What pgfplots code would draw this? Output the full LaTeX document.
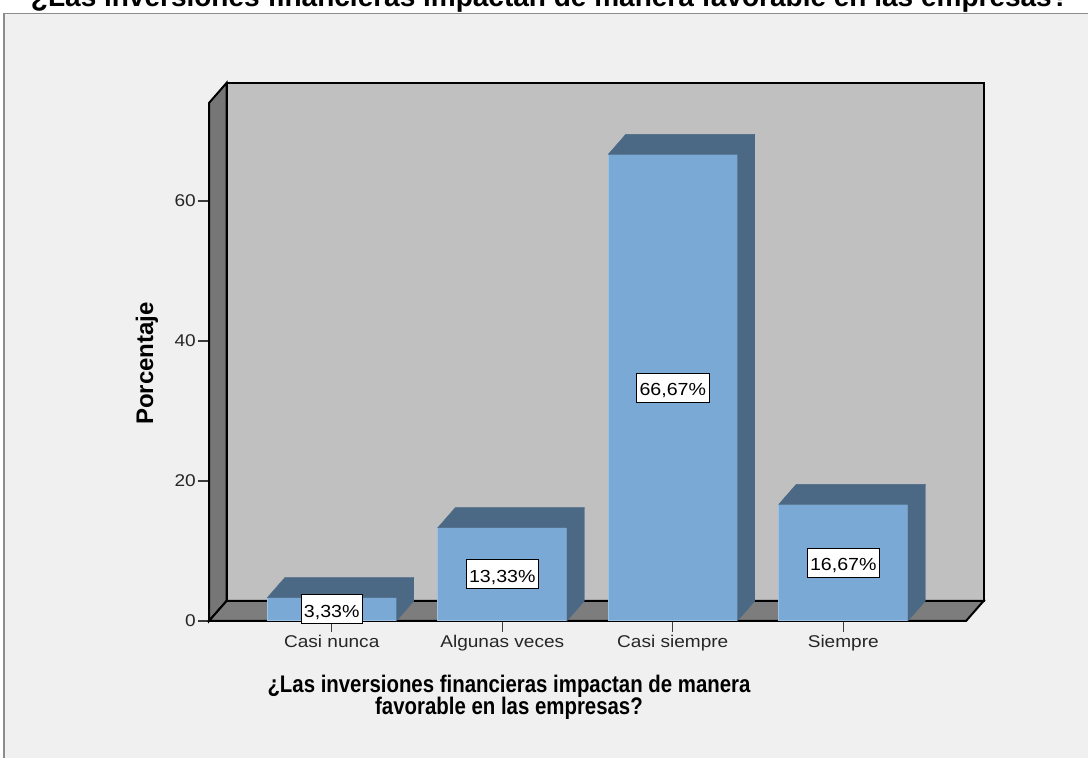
\documentclass[border=0pt]{standalone}
\usepackage{pgfplots}
\pgfplotsset{compat=1.18}
\usepackage{fontspec}
\setmainfont{Liberation Sans}[FakeStretch=1.12]
\newfontfamily\plainfont{Liberation Sans}
\newfontfamily\narrowfont{Liberation Sans}[FakeStretch=0.85]

\definecolor{panelbg}{HTML}{F0F0F0}
\definecolor{panelline}{HTML}{8C8C8C}
\definecolor{backwall}{HTML}{C0C0C0}
\definecolor{sidewall}{HTML}{767676}
\definecolor{floorcol}{HTML}{7D7D7D}
\definecolor{barfront}{HTML}{7BA9D6}
\definecolor{baredge}{HTML}{9CC2E6}
\definecolor{barside}{HTML}{4B6985}
\definecolor{tickcol}{HTML}{3C3C3C}

% empty mark: the 3d faces are drawn by the scatter code
\pgfdeclareplotmark{blank}{}

\begin{document}
\begin{tikzpicture}[x=1pt,y=1pt]
\fill[white] (0,0) rectangle (1088,758);
\fill[panelbg] (4,-10) rectangle (1100,744.5);
\draw[panelline, line width=1.5pt] (4,-10) -- (4,744.5) -- (1100,744.5);
\node[anchor=base, font=\plainfont\bfseries\fontsize{28}{32}\selectfont] at (550,751)
  {¿Las inversiones financieras impactan de manera favorable en las empresas?};

\begin{axis}[
  at={(209pt,137pt)}, anchor=south west,
  scale only axis, x=170.5pt, y=7pt,
  xmin=-0.72, xmax=3.72, ymin=0, ymax=74,
  clip=false,
  axis x line*=bottom, axis y line*=left,
  axis line style={draw=none},
  xtick={0,1,2,3},
  xticklabels={Casi nunca, Algunas veces, Casi siempre, Siempre},
  ytick={0,20,40,60},
  tick align=outside,
  major tick length=11pt,
  tick style={tickcol, line width=1.3pt},
  /pgf/number format/assume math mode=true,
  ticklabel style={font=\fontsize{17}{20}\selectfont, text=black!85},
  yticklabel style={inner xsep=2pt},
]
% walls and floor
\filldraw[fill=backwall, draw=black, line width=2pt]
  ([shift={(17.5pt,20pt)}]axis cs:-0.72,0) rectangle ([shift={(17.5pt,20pt)}]axis cs:3.72,74);
\filldraw[fill=sidewall, draw=black, line width=2pt]
  (axis cs:-0.72,0) -- (axis cs:-0.72,74) -- ([shift={(17.5pt,20pt)}]axis cs:-0.72,74)
  -- ([shift={(17.5pt,20pt)}]axis cs:-0.72,0) -- cycle;
\filldraw[fill=floorcol, draw=black, line width=2pt]
  (axis cs:-0.72,0) -- (axis cs:3.72,0) -- ([shift={(17.5pt,20pt)}]axis cs:3.72,0)
  -- ([shift={(17.5pt,20pt)}]axis cs:-0.72,0) -- cycle;

% top and side faces of the bars
\addplot[scatter, only marks, mark=blank,
  visualization depends on={rawy \as \val},
  scatter/@pre marker code/.code={
    \fill[barside] (-64.5pt,0pt) -- (64.5pt,0pt) -- (82pt,20pt) -- (-47pt,20pt) -- cycle;
    \fill[barside] (64.5pt,0pt) -- (82pt,20pt) -- (82pt,{20pt-7pt*\val}) -- (64.5pt,{-7pt*\val}) -- cycle;
  },
  scatter/@post marker code/.code={}]
  coordinates {(0,3.33) (1,13.33) (2,66.67) (3,16.67)};

% front faces with value labels
\addplot[ybar, bar width=129pt, fill=barfront, draw=baredge, line width=1pt,
  point meta=y,
  visualization depends on={rawy \as \val},
  nodes near coords={\pgfmathprintnumber[fixed,fixed zerofill,precision=2,use comma]{\pgfplotspointmeta}\%},
  every node near coord/.append style={anchor=center, yshift={-3.5pt*\val},
    fill=white, draw=black, line width=0.8pt, inner xsep=3pt, inner ysep=3pt,
    text height=19.5pt, text depth=3.5pt, text=black,
    font=\fontsize{17.5}{20}\selectfont}]
  coordinates {(0,3.33) (1,13.33) (2,66.67) (3,16.67)};
\end{axis}

\node[anchor=base, font=\narrowfont\bfseries\fontsize{24}{28}\selectfont] at (509,65.3)
  {¿Las inversiones financieras impactan de manera};
\node[anchor=base, font=\narrowfont\bfseries\fontsize{24}{28}\selectfont] at (509,43)
  {favorable en las empresas?};
\node[rotate=90, anchor=base, font=\plainfont\bfseries\fontsize{24}{28}\selectfont] at (153,394.6)
  {Porcentaje};

\pgfresetboundingbox
\path[use as bounding box] (0,0) rectangle (1088,758);
\end{tikzpicture}
\end{document}
